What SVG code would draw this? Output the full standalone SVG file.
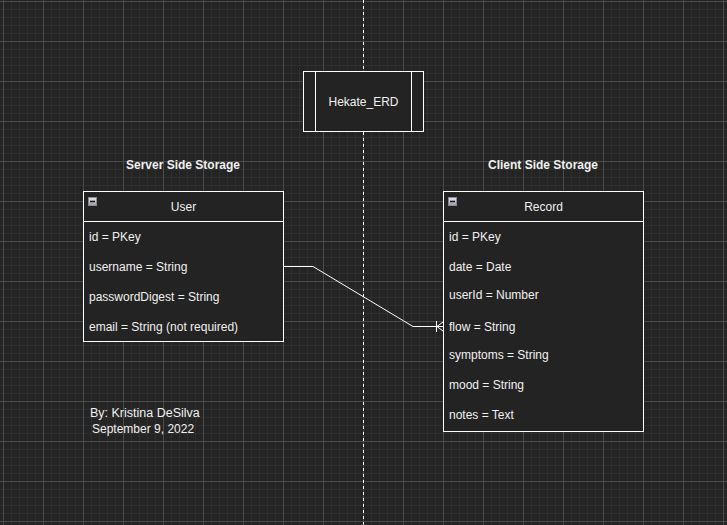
<svg xmlns="http://www.w3.org/2000/svg" width="727" height="525" viewBox="0 0 727 525">
<defs>
<pattern id="minor" x="3" y="1" width="8" height="8" patternUnits="userSpaceOnUse">
<path d="M0.5 0V8M0 0.5H8" stroke="#2e2e2e" stroke-width="1" fill="none"/>
</pattern>
<pattern id="major" x="3" y="1" width="40" height="40" patternUnits="userSpaceOnUse">
<path d="M0.5 0V40M0 0.5H40" stroke="#4a4a4a" stroke-width="1" fill="none"/>
</pattern>
<linearGradient id="btn" x1="0" y1="0" x2="0" y2="1">
<stop offset="0" stop-color="#e8e8ee"/><stop offset="1" stop-color="#9a9aa6"/>
</linearGradient>
</defs>
<style>
text{font-family:"Liberation Sans",Arial,sans-serif;font-size:12px;fill:#f0f0f0}
.h{text-anchor:middle}
.b{font-weight:bold}
.box{fill:#232323;stroke:#ffffff;stroke-width:1}
.ln{stroke:#ffffff;stroke-width:1;fill:none}
</style>
<rect width="727" height="525" fill="#242424"/>
<rect width="727" height="525" fill="url(#minor)"/>
<rect width="727" height="525" fill="url(#major)"/>
<line x1="363.5" y1="0" x2="363.5" y2="525" stroke="#ffffff" stroke-width="1" stroke-dasharray="3 3"/>

<g id="connectors">
<path class="ln" d="M283 266.5H313L413 326.5H443"/>
<path class="ln" d="M436.5 321V332M437 326.5L443 322M437 326.5L443 331"/>
</g>

<g id="title">
<rect class="box" x="303.5" y="71.5" width="120" height="60"/>
<line class="ln" x1="315.5" y1="71.5" x2="315.5" y2="131.5"/>
<line class="ln" x1="411.5" y1="71.5" x2="411.5" y2="131.5"/>
<text class="h" x="363.5" y="105.5">Hekate_ERD</text>
</g>

<g id="label-server"><text class="h b" x="183" y="169">Server Side Storage</text></g>
<g id="label-client"><text class="h b" x="543" y="169">Client Side Storage</text></g>

<g id="user">
<rect class="box" x="83.5" y="191.5" width="200" height="150"/>
<line class="ln" x1="83.5" y1="221.5" x2="283.5" y2="221.5"/>
<rect x="88.5" y="197.5" width="8" height="8" fill="url(#btn)" stroke="#8a8a96" stroke-width="1"/>
<line x1="90" y1="201.5" x2="95" y2="201.5" stroke="#111" stroke-width="1.5"/>
<text class="h" x="183.5" y="211">User</text>
<text x="89" y="241">id = PKey</text>
<text x="89" y="271">username = String</text>
<text x="89" y="301">passwordDigest = String</text>
<text x="89" y="331">email = String (not required)</text>
</g>

<g id="record">
<rect class="box" x="443.5" y="191.5" width="200" height="240"/>
<line class="ln" x1="443.5" y1="221.5" x2="643.5" y2="221.5"/>
<rect x="448.5" y="197.5" width="8" height="8" fill="url(#btn)" stroke="#8a8a96" stroke-width="1"/>
<line x1="450" y1="201.5" x2="455" y2="201.5" stroke="#111" stroke-width="1.5"/>
<text class="h" x="543.5" y="211">Record</text>
<text x="449" y="241">id = PKey</text>
<text x="449" y="271">date = Date</text>
<text x="449" y="299">userId = Number</text>
<text x="449" y="331">flow = String</text>
<text x="449" y="359">symptoms = String</text>
<text x="449" y="389">mood = String</text>
<text x="449" y="419">notes = Text</text>
</g>

<g id="author">
<text x="90" y="417" style="font-size:12.5px">By: Kristina DeSilva</text>
<text x="92" y="433">September 9, 2022</text>
</g>
</svg>
